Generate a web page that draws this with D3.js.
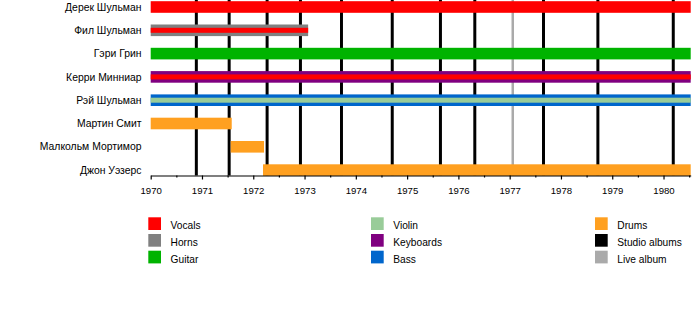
<!DOCTYPE html>
<html>
<head>
<meta charset="utf-8">
<script src="https://cdn.jsdelivr.net/npm/d3@7"></script>
<style>
  html, body { margin: 0; padding: 0; background: #fff; }
  svg { display: block; font-family: "Liberation Sans", Arial, sans-serif; }
</style>
</head>
<body>
<svg id="chart" width="700" height="325"></svg>
<script>
// Band members, top to bottom
const members = ["Дерек Шульман", "Фил Шульман", "Гэри Грин", "Керри Минниар",
  "Рэй Шульман", "Мартин Смит", "Малкольм Мортимор", "Джон Уэзерс"];

// Main role per member: [member, role, start, end] in decimal years
const mainBars = [
  ["Дерек Шульман", "Vocals", 1970, 1980.53],
  ["Фил Шульман", "Horns", 1970, 1973.07],
  ["Гэри Грин", "Guitar", 1970, 1980.53],
  ["Керри Минниар", "Keyboards", 1970, 1980.53],
  ["Рэй Шульман", "Bass", 1970, 1980.53],
  ["Мартин Смит", "Drums", 1970, 1971.58],
  ["Малкольм Мортимор", "Drums", 1971.56, 1972.21],
  ["Джон Уэзерс", "Drums", 1972.19, 1980.53]
];

// Secondary roles drawn as a thin stripe inside the main bar
const stripeBars = [
  ["Фил Шульман", "Vocals", 1970, 1973.07],
  ["Керри Минниар", "Vocals", 1970, 1980.53],
  ["Рэй Шульман", "Violin", 1970, 1980.53]
];

// Release dates
const studioAlbums = [1970.89, 1971.53, 1972.27, 1972.92, 1973.72, 1974.71,
  1975.65, 1976.32, 1977.66, 1978.72, 1980.19];
const liveAlbums = [1977.06];

// Axis
const yearTicks = [1970, 1971, 1972, 1973, 1974, 1975, 1976, 1977, 1978, 1979, 1980];
const halfYearTicks = [1970.5, 1971.5, 1972.5, 1973.5, 1974.5, 1975.5, 1976.5,
  1977.5, 1978.5, 1979.5, 1980.5];

// Legend: three columns
const legendColumns = [
  ["Vocals", "Horns", "Guitar"],
  ["Violin", "Keyboards", "Bass"],
  ["Drums", "Studio albums", "Live album"]
];

const colors = {
  "Vocals": "#ff0000",
  "Horns": "#808080",
  "Guitar": "#00b300",
  "Violin": "#99cc99",
  "Keyboards": "#800080",
  "Bass": "#0066cc",
  "Drums": "#ffa020",
  "Studio albums": "#000000",
  "Live album": "#aaaaaa"
};

const svg = d3.select("#chart");

const x = d3.scaleLinear().domain([1970, 1980.53]).range([150.7, 690.7]);
const y = d3.scalePoint().domain(members).range([7, 170.1]);
const axisY = 175.5;
const barH = 11.6;
const stripeH = 5;

// Release lines
svg.append("g").selectAll("line").data(studioAlbums).join("line")
  .attr("x1", d => x(d)).attr("x2", d => x(d))
  .attr("y1", 0).attr("y2", axisY)
  .attr("stroke", colors["Studio albums"]).attr("stroke-width", 3);
svg.append("g").selectAll("line").data(liveAlbums).join("line")
  .attr("x1", d => x(d)).attr("x2", d => x(d))
  .attr("y1", 0).attr("y2", axisY)
  .attr("stroke", colors["Live album"]).attr("stroke-width", 2.5);

// Member bars
svg.append("g").selectAll("rect").data(mainBars).join("rect")
  .attr("x", d => x(d[2]))
  .attr("width", d => x(d[3]) - x(d[2]))
  .attr("y", d => y(d[0]) - barH / 2)
  .attr("height", barH)
  .attr("fill", d => colors[d[1]]);

svg.append("g").selectAll("rect").data(stripeBars).join("rect")
  .attr("x", d => x(d[2]))
  .attr("width", d => x(d[3]) - x(d[2]))
  .attr("y", d => y(d[0]) - stripeH / 2)
  .attr("height", stripeH)
  .attr("fill", d => colors[d[1]]);

// Member names
svg.append("g").selectAll("text").data(members).join("text")
  .attr("x", 141.5)
  .attr("y", d => y(d))
  .attr("dy", "0.35em")
  .attr("text-anchor", "end")
  .attr("font-size", 10.4)
  .attr("fill", "#000")
  .text(d => d);

// Time axis
const axisG = svg.append("g").attr("transform", `translate(0,${axisY})`);
axisG.call(d3.axisBottom(x).tickValues(yearTicks).tickFormat(d3.format("d"))
  .tickSize(4).tickPadding(8).tickSizeOuter(0));
axisG.append("g").call(d3.axisBottom(x).tickValues(halfYearTicks).tickFormat("")
  .tickSize(2).tickSizeOuter(0))
  .select(".domain").remove();
axisG.selectAll(".domain").attr("stroke", "#000").attr("stroke-width", 1.2);
axisG.selectAll(".tick line").attr("stroke", "#000").attr("stroke-width", 1.2);
axisG.selectAll(".tick text")
  .attr("font-size", 9.6)
  .attr("font-family", "Liberation Sans, Arial, sans-serif")
  .attr("fill", "#000");

// Legend
const legendX = [148.3, 371, 595];
const legendRowY = [217.3, 234, 250.7];
const legend = svg.append("g");
legendColumns.forEach((col, ci) => {
  const g = legend.append("g");
  g.selectAll("rect").data(col).join("rect")
    .attr("x", legendX[ci])
    .attr("y", (d, i) => legendRowY[i])
    .attr("width", 12.7).attr("height", 12.7)
    .attr("fill", d => colors[d]);
  g.selectAll("text").data(col).join("text")
    .attr("x", legendX[ci] + 22.3)
    .attr("y", (d, i) => legendRowY[i] + 11.8)
    .attr("font-size", 10.2)
    .attr("fill", "#000")
    .text(d => d);
});
</script>
</body>
</html>
